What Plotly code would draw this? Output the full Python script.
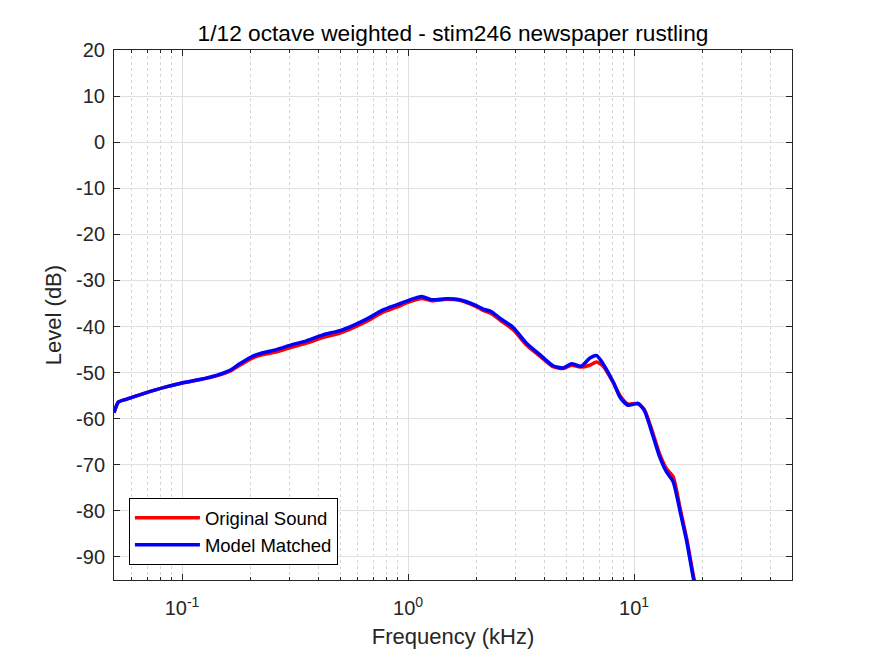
import plotly.graph_objects as go

# 1/12 octave weighted spectrum
freq_khz = [0.050, 0.0523, 0.0565, 0.067, 0.085, 0.101, 0.120, 0.142, 0.163, 0.180,
            0.206, 0.228, 0.262, 0.300, 0.355, 0.420, 0.500, 0.570, 0.655, 0.775,
            0.890, 1.02, 1.15, 1.27, 1.48, 1.69, 1.97, 2.15, 2.34, 2.55,
            2.92, 3.34, 3.83, 4.38, 4.85, 5.28, 5.85, 6.36, 6.82, 7.30,
            8.10, 8.68, 9.40, 10.4, 11.1, 12.1, 12.9, 13.9, 14.9, 16.0,
            17.1, 18.3, 19.4]
model_db = [-58.7, -56.4, -55.8, -54.6, -53.1, -52.2, -51.5, -50.6, -49.5, -48.1,
            -46.4, -45.7, -45.0, -44.1, -43.1, -41.8, -40.9, -39.8, -38.4, -36.4,
            -35.3, -34.2, -33.5, -34.2, -34.0, -34.2, -35.3, -36.2, -36.8, -38.2,
            -40.2, -43.6, -46.1, -48.5, -49.0, -48.1, -48.6, -46.9, -46.3, -48.1,
            -52.1, -55.4, -57.1, -56.7, -58.2, -63.6, -67.9, -71.5, -73.7, -80.2,
            -86.6, -94.6, -100.5]
original_db = [-58.7, -56.4, -55.8, -54.6, -53.1, -52.2, -51.5, -50.7, -49.7, -48.4,
               -46.8, -46.1, -45.5, -44.6, -43.6, -42.4, -41.4, -40.3, -38.9, -36.9,
               -35.8, -34.6, -33.9, -34.4, -34.1, -34.3, -35.5, -36.5, -37.2, -38.6,
               -40.7, -44.0, -46.4, -48.7, -49.1, -48.4, -48.8, -48.4, -47.7, -48.6,
               -52.2, -55.0, -56.8, -56.7, -58.0, -63.0, -67.3, -70.8, -72.6, -79.5,
               -86.0, -94.0, -100.0]

x_tickvals = [0.1, 1, 10]
x_ticktext = ["10<sup>-1</sup>", "10<sup>0</sup>", "10<sup>1</sup>"]
x_minor = [0.05, 0.06, 0.07, 0.08, 0.09,
           0.2, 0.3, 0.4, 0.5, 0.6, 0.7, 0.8, 0.9,
           2, 3, 4, 5, 6, 7, 8, 9,
           20, 30, 40, 50]
y_tickvals = list(range(-90, 21, 10))
y_ticktext = [str(v) for v in y_tickvals]  # plain hyphen minus, like MATLAB

font = "Liberation Sans, Arial, sans-serif"

fig = go.Figure()
fig.add_trace(go.Scatter(x=freq_khz, y=original_db, mode="lines", name="Original Sound",
                         line=dict(color="#ff0000", width=3.5, shape="spline", smoothing=0.6)))
fig.add_trace(go.Scatter(x=freq_khz, y=model_db, mode="lines", name="Model Matched",
                         line=dict(color="#0000ff", width=3.5, shape="spline", smoothing=0.6)))

# page body adds an 8px margin, so the figure is 8px smaller than the window
fig.update_layout(
    width=867, height=648,
    margin=dict(l=106, r=83, t=42, b=74),
    paper_bgcolor="white", plot_bgcolor="white",
    font=dict(family=font, size=20, color="#262626"),
    title=dict(text="1/12 octave weighted - stim246 newspaper rustling",
               x=(114 - 8 + 339) / 867, xanchor="center", y=1 - 25 / 648, yanchor="middle",
               font=dict(family=font, size=22.7, color="black")),
    showlegend=True,
    legend=dict(x=0.022, y=0.028, xanchor="left", yanchor="bottom",
                bgcolor="white", bordercolor="black", borderwidth=1,
                font=dict(family=font, size=18.5, color="black"),
                tracegroupgap=0, itemwidth=65),
)

fig.update_xaxes(
    type="log", range=[-1.30103, 1.69897],
    title=dict(text="Frequency (kHz)", font=dict(size=22), standoff=10),
    tickvals=x_tickvals, ticktext=x_ticktext, ticklabelstandoff=10,
    ticks="inside", ticklen=6, tickcolor="#262626",
    showline=True, linecolor="#262626", linewidth=1, mirror="ticks",
    showgrid=True, gridcolor="#e0e0e0", gridwidth=1,
    minor=dict(tickvals=x_minor, ticks="inside", ticklen=3, tickcolor="#262626",
               showgrid=True, gridcolor="#d6d6d6", griddash="dot", gridwidth=1),
    zeroline=False,
)
fig.update_yaxes(
    range=[-95, 20],
    title=dict(text="Level (dB)", font=dict(size=22), standoff=8),
    tickvals=y_tickvals, ticktext=y_ticktext, ticklabelstandoff=4,
    ticks="inside", ticklen=6, tickcolor="#262626",
    showline=True, linecolor="#262626", linewidth=1, mirror="ticks",
    showgrid=True, gridcolor="#e0e0e0", gridwidth=1,
    zeroline=False,
)

fig.write_html("out.html")
